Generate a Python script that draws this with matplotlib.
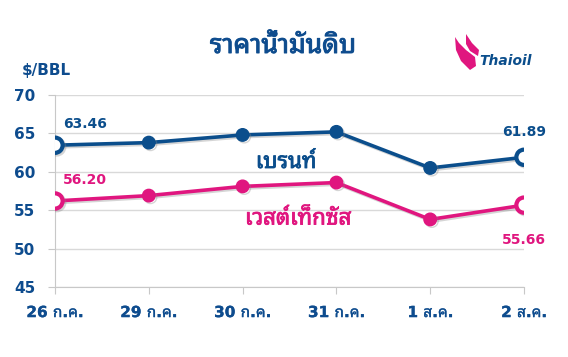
import matplotlib
matplotlib.use("Agg")
import matplotlib.pyplot as plt
import matplotlib.patheffects as pe
from matplotlib.patches import Polygon

dates = ["26 ก.ค.", "29 ก.ค.", "30 ก.ค.", "31 ก.ค.", "1 ส.ค.", "2 ส.ค."]
brent = [63.46, 63.8, 64.8, 65.2, 60.5, 61.89]
wti = [56.20, 56.9, 58.1, 58.6, 53.8, 55.66]
yticks = [45, 50, 55, 60, 65, 70]

NAVY = "#0B4E8C"
TEXT = "#0E4C8E"
PINK = "#E0167F"
FAM = ["DejaVu Sans", "Noto Sans Thai Looped"]

plt.rcParams["font.family"] = FAM
fig = plt.figure(figsize=(5.68, 3.57), dpi=100)
ax = fig.add_axes([55/568, 70/357, (524-55)/568, (287-95)/357])


def bolden(color, w=0.5):
    return [pe.withStroke(linewidth=w, foreground=color)]


x = list(range(len(dates)))
shadow = [pe.SimpleLineShadow(offset=(1.2, -1.2), shadow_color="#888888", alpha=0.35), pe.Normal()]
for vals, col in [(brent, NAVY), (wti, PINK)]:
    ax.plot(x, vals, color=col, lw=2.6, zorder=3, path_effects=shadow)
    ax.plot(x[1:-1], vals[1:-1], 'o', color=col, ms=9, zorder=4, path_effects=shadow)
    ax.plot([x[0], x[-1]], [vals[0], vals[-1]], 'o', mfc="white", mec=col, mew=3, ms=11, zorder=5,
            path_effects=shadow)

ax.set_xlim(0, len(dates) - 1)
ax.set_ylim(45, 70)
ax.set_yticks(yticks)
ax.set_xticks(x)
ax.set_xticklabels(dates)
ax.grid(axis="y", color="#D9D9D9", lw=1)
ax.set_axisbelow(True)
for s in ["top", "right"]:
    ax.spines[s].set_visible(False)
for s in ["left", "bottom"]:
    ax.spines[s].set_color("#C8C8C8")
ax.tick_params(axis="both", colors="#C8C8C8", length=5, labelcolor=TEXT, labelsize=11)
ax.tick_params(axis="x", pad=8)
ax.tick_params(axis="y", pad=9)
for lab in ax.get_yticklabels():
    lab.set_fontweight("bold")
for lab in ax.get_xticklabels():
    lab.set_fontweight("bold")
    lab.set_path_effects(bolden(TEXT, 0.2))

# data labels
ax.annotate(f"{brent[0]:.2f}", (x[0], brent[0]), xytext=(6, 10), textcoords="offset points",
            color=NAVY, fontsize=10, fontweight="bold", ha="left", va="bottom")
ax.annotate(f"{wti[0]:.2f}", (x[0], wti[0]), xytext=(6, 10), textcoords="offset points",
            color=PINK, fontsize=10, fontweight="bold", ha="left", va="bottom")
ax.annotate(f"{brent[-1]:.2f}", (x[-1], brent[-1]), xytext=(0, 13), textcoords="offset points",
            color=NAVY, fontsize=10, fontweight="bold", ha="center", va="bottom")
ax.annotate(f"{wti[-1]:.2f}", (x[-1], wti[-1]), xytext=(0, -20), textcoords="offset points",
            color=PINK, fontsize=10, fontweight="bold", ha="center", va="top")

# series names
fig.text(286/568, 1 - 162/357, "เบรนท์", color=NAVY, fontsize=16,
         ha="center", va="center", path_effects=bolden(NAVY, 0.6))
fig.text(298/568, 1 - 218/357, "เวสต์เท็กซัส", color=PINK, fontsize=16,
         ha="center", va="center", path_effects=bolden(PINK, 0.6))

# title and unit
fig.text(283/568, 1 - 46/357, "ราคาน้ำมันดิบ", color=TEXT, fontsize=19,
         ha="center", va="center", path_effects=bolden(TEXT, 0.7))
fig.text(22/568, 1 - 70/357, "$/BBL", color=TEXT, fontsize=11, fontweight="bold",
         ha="left", va="center")

# logo
def fp(px, py):
    return (px / 568, 1 - py / 357)
flame1 = Polygon([fp(455, 37), fp(456, 50), fp(461, 61), fp(470, 70), fp(476, 66), fp(475, 57), fp(466, 50), fp(459, 43)],
                 closed=True, transform=fig.transFigure, color=PINK, lw=0)
flame2 = Polygon([fp(466, 34), fp(466, 44), fp(470, 51), fp(478, 56), fp(479, 50), fp(472, 43)],
                 closed=True, transform=fig.transFigure, color=PINK, lw=0)
fig.patches.extend([flame1, flame2])
fig.text(479/568, 1 - 61/357, "Thaioil", color=NAVY, fontsize=10, fontweight="bold",
         fontstyle="italic", ha="left", va="center", family="DejaVu Sans")

fig.savefig("out.png", dpi=100)
